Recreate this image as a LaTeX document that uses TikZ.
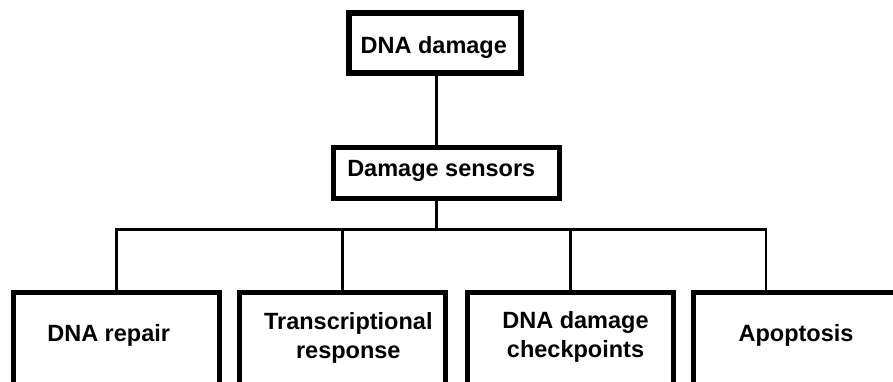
\documentclass[tikz,border=0pt]{standalone}
\usepackage{fontspec}
\setmainfont{Liberation Sans}
\begin{document}
\begin{tikzpicture}[x=1pt,y=1pt,
  box/.style={draw=black,line width=5pt,rectangle,inner sep=0pt,outer sep=0pt,fill=white},
  topbox/.style={box,line width=6pt},
  lbl/.style={font=\fontsize{23.5}{29}\selectfont\bfseries,inner sep=0pt,align=center,anchor=base},
  conn/.style={draw=black,line width=2.5pt}]
\useasboundingbox (0,0) rectangle (893,-381);
\clip (0,0) rectangle (893,-381);
% boxes
\node[topbox,minimum width=172pt,minimum height=60pt] (top) at (435,-43) {};
\node[box,minimum width=226pt,minimum height=51pt] (sens) at (446.5,-173) {};
\node[box,minimum width=206pt,minimum height=93.5pt] (b1) at (116.5,-339.25) {};
\node[box,minimum width=206pt,minimum height=93.5pt] (b2) at (342.5,-339.25) {};
\node[box,minimum width=206pt,minimum height=93.5pt] (b3) at (570.5,-339.25) {};
\node[box,minimum width=206pt,minimum height=93.5pt] (b4) at (796.5,-339.25) {};
% texts
\node[lbl] (ttop) at (433.8,-53.3) {DNA damage};
\node[lbl] (tsens) at (441.3,-176.7) {Damage sensors};
\node[lbl] (t1) at (108.7,-341.7) {DNA repair};
\node[lbl] (t2) at (348.3,-358.3) {Transcriptional\\response};
\node[lbl] (t3) at (575.5,-357) {DNA damage\\checkpoints};
\node[lbl] (t4) at (796,-341.7) {Apoptosis};
% connectors
\coordinate (bus) at (436.7,-229.5);
\coordinate (d4) at (766,-292.5);
\draw[conn] (top.south -| bus) -- (bus |- sens.north);
\draw[conn] (bus |- sens.south) -- (bus);
\draw[conn] (b1.north) -- (b1.north |- bus) -- (d4 |- bus) -- (d4);
\draw[conn] (b2.north) -- (b2.north |- bus);
\draw[conn] (b3.north) -- (b3.north |- bus);
\end{tikzpicture}
\end{document}
